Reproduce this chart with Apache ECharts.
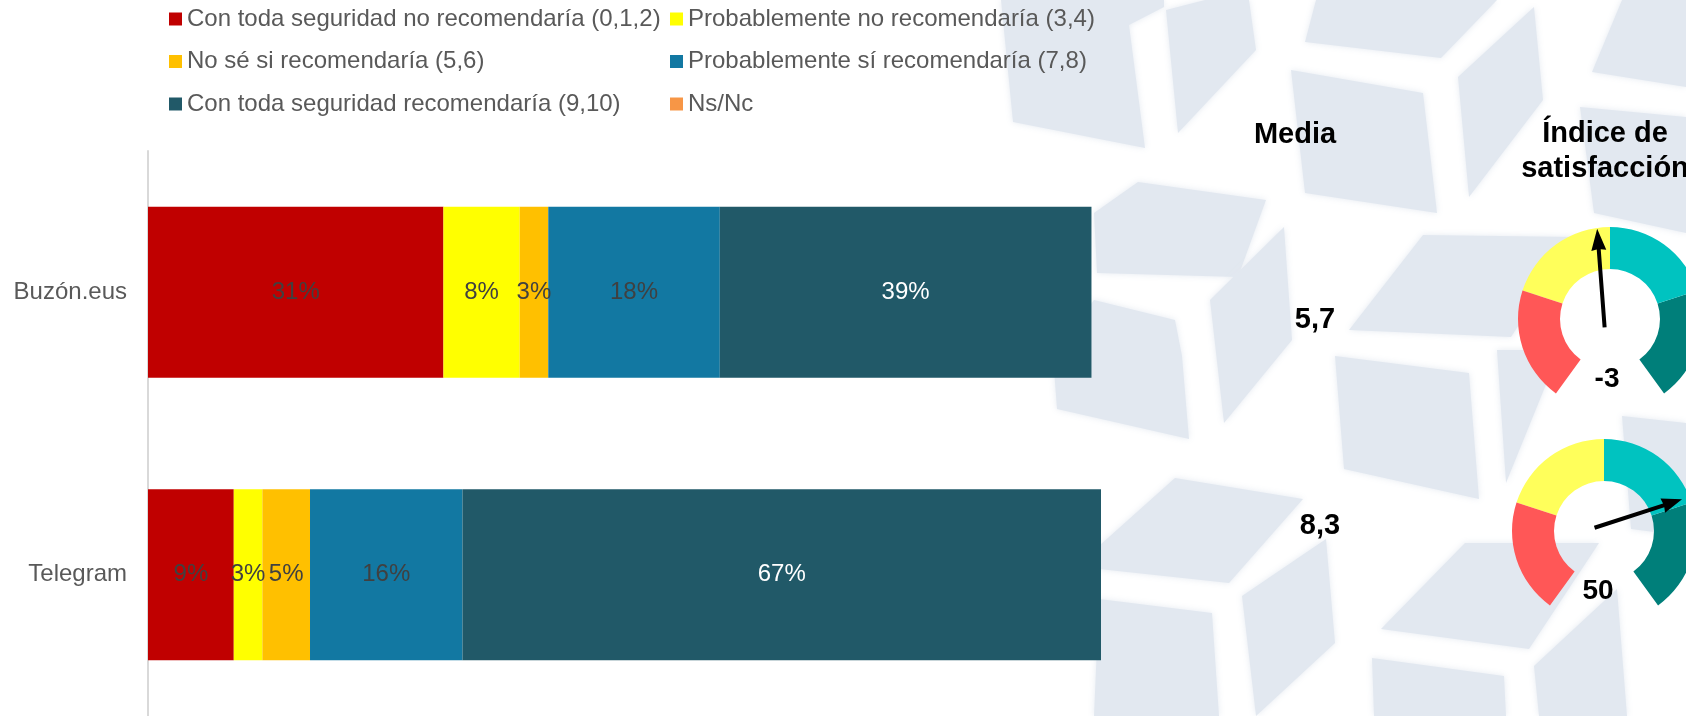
<!DOCTYPE html>
<html>
<head>
<meta charset="utf-8">
<script src="https://cdn.jsdelivr.net/npm/echarts@6/dist/echarts.min.js"></script>
<style>
html,body{margin:0;padding:0;background:#fff;}
#chart{width:1686px;height:716px;}
</style>
</head>
<body>
<div id="chart"></div>
<script>
// ---- data ----
const categories = ['Buzón.eus', 'Telegram'];
const seriesNames = [
  'Con toda seguridad no recomendaría (0,1,2)',
  'Probablemente no recomendaría (3,4)',
  'No sé si recomendaría (5,6)',
  'Probablemente sí recomendaría (7,8)',
  'Con toda seguridad recomendaría (9,10)',
  'Ns/Nc'
];
const seguroNo = [31, 9];
const probableNo = [8, 3];
const noSe = [3, 5];
const probableSi = [18, 16];
const seguroSi = [39, 67];
const nsnc = [0, 0];
const mediaValues = [5.7, 8.3];
const indiceValues = [-3, 50];
const mediaTitle = 'Media';
const indiceTitle = 'Índice de\nsatisfacción';

// ---- styling ----
const FONT = 'Liberation Sans, Arial, sans-serif';
const barColors = ['#C00000', '#FFFF00', '#FFC000', '#1278A2', '#215968', '#F79646'];
const labelColors = ['#404040', '#404040', '#404040', '#404040', '#FFFFFF', '#404040'];
const gaugeColors = [[0.25, '#FF5757'], [0.5, '#FFFF5B'], [0.75, '#00C3C0'], [1, '#007F7A']];
const seriesValues = [seguroNo, probableNo, noSe, probableSi, seguroSi, nsnc];

// decorative background cube faces (pixel positions)
const bgFaces = [
  [[1001,0],[1164,0],[1164,7],[1129,25],[1145,148],[1013,122]],
  [[1166,10],[1205,0],[1249,0],[1256,50],[1178,133]],
  [[1316,0],[1497,0],[1441,58],[1305,42]],
  [[1291,70],[1423,93],[1437,213],[1305,193]],
  [[1458,77],[1534,7],[1543,100],[1469,197]],
  [[1622,0],[1686,0],[1686,87],[1592,72]],
  [[1580,107],[1686,117],[1686,233],[1594,213]],
  [[1094,213],[1138,182],[1266,200],[1238,277],[1097,273]],
  [[1210,300],[1284,227],[1292,340],[1224,423]],
  [[1094,300],[1175,320],[1182,356],[1189,439],[1057,409],[1053,356]],
  [[1423,235],[1576,237],[1511,337],[1349,330]],
  [[1335,356],[1469,373],[1479,499],[1344,469]],
  [[1497,350],[1560,350],[1506,483]],
  [[1099,546],[1175,478],[1303,499],[1229,583],[1099,569]],
  [[1099,599],[1212,613],[1219,716],[1094,716]],
  [[1242,596],[1326,539],[1335,643],[1256,716]],
  [[1381,629],[1465,543],[1599,543],[1529,649]],
  [[1372,658],[1504,676],[1506,716],[1374,716]],
  [[1534,666],[1617,589],[1627,716],[1539,716]],
  [[1622,416],[1686,423],[1686,536],[1631,529]]
];

const chart = echarts.init(document.getElementById('chart'), null, {renderer: 'canvas'});

const barSeries = seriesNames.map((name, i) => ({
  name: name,
  type: 'bar',
  stack: 'total',
  barCategoryGap: '39.4%',
  itemStyle: {color: barColors[i]},
  label: {
    show: true,
    position: 'inside',
    fontFamily: FONT,
    fontSize: 24,
    color: labelColors[i],
    formatter: p => (p.value ? p.value + '%' : '')
  },
  emphasis: {disabled: true},
  data: seriesValues[i]
}));

const gaugeCenters = [[1610, 319], [1604, 531]];
const pointerLengths = [99, 92];
const detailOffsets = [[-3, 60], [-6, 60]];
const gaugeSeries = indiceValues.map((v, i) => ({
  type: 'gauge',
  center: gaugeCenters[i],
  radius: 92,
  startAngle: 234,
  endAngle: -54,
  min: -100,
  max: 100,
  axisLine: {lineStyle: {width: 42, color: gaugeColors}},
  splitLine: {show: false},
  axisTick: {show: false},
  axisLabel: {show: false},
  progress: {show: false},
  anchor: {show: false},
  title: {show: false},
  pointer: {
    icon: 'path://M7.5 0 L15 22 L9.5 21 L9.5 100 L5.5 100 L5.5 21 L0 22 Z',
    length: pointerLengths[i],
    width: 15,
    offsetCenter: [-6, 8],
    itemStyle: {color: '#000000'}
  },
  detail: {
    offsetCenter: detailOffsets[i],
    fontFamily: FONT,
    fontSize: 28,
    fontWeight: 'bold',
    color: '#000000',
    formatter: '{value}'
  },
  data: [{value: v}]
}));

const mediaPos = [[1315, 320], [1320, 526]];
const graphics = bgFaces.map(pts => ({
  type: 'polygon',
  z: -10,
  silent: true,
  shape: {points: pts},
  style: {fill: '#E2E8F0', shadowBlur: 6, shadowColor: 'rgba(226,232,240,0.9)'}
}));
graphics.push({
  type: 'text', x: 1295, y: 135, z: 10,
  style: {text: mediaTitle, font: 'bold 29px ' + FONT, fill: '#000', textAlign: 'center', textVerticalAlign: 'middle'}
});
graphics.push({
  type: 'text', x: 1605, y: 151, z: 10,
  style: {text: indiceTitle, font: 'bold 29px ' + FONT, fill: '#000', textAlign: 'center', textVerticalAlign: 'middle', lineHeight: 35}
});
mediaValues.forEach((m, i) => {
  graphics.push({
    type: 'text', x: mediaPos[i][0], y: mediaPos[i][1], z: 10,
    style: {text: m.toFixed(1).replace('.', ','), font: 'bold 29px ' + FONT, fill: '#000', textAlign: 'center', textVerticalAlign: 'middle'}
  });
});

const legendCommon = {
  orient: 'vertical',
  icon: 'rect',
  itemWidth: 13,
  itemHeight: 13,
  itemGap: 18.5,
  padding: 0,
  selectedMode: false,
  textStyle: {fontFamily: FONT, fontSize: 24, color: '#595959'}
};

chart.setOption({
  animation: false,
  backgroundColor: '#FFFFFF',
  legend: [
    Object.assign({}, legendCommon, {left: 169, top: 7, data: [seriesNames[0], seriesNames[2], seriesNames[4]]}),
    Object.assign({}, legendCommon, {left: 670, top: 7, data: [seriesNames[1], seriesNames[3], seriesNames[5]]})
  ],
  grid: {left: 148, top: 151, width: 953, height: 570, containLabel: false},
  xAxis: {type: 'value', min: 0, max: 100, show: false},
  yAxis: {
    type: 'category',
    inverse: true,
    data: categories,
    axisLine: {show: true, lineStyle: {color: '#D9D9D9', width: 2}},
    axisTick: {show: false},
    axisLabel: {fontFamily: FONT, fontSize: 24, color: '#595959', margin: 21}
  },
  graphic: graphics,
  series: barSeries.concat(gaugeSeries)
});
</script>
</body>
</html>
